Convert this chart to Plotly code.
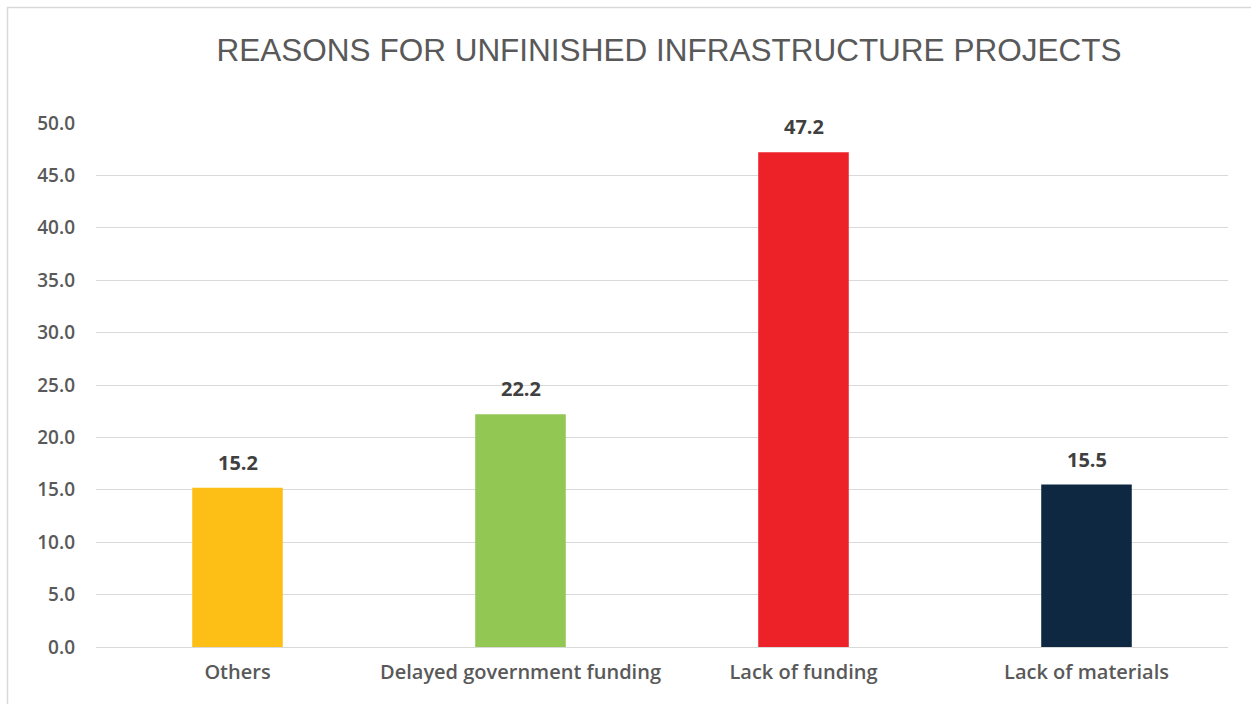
import plotly.graph_objects as go

categories = ["Others", "Delayed government funding", "Lack of funding", "Lack of materials"]
values = [15.2, 22.2, 47.2, 15.5]
bar_colors = ["#FDBE15", "#93C754", "#EC2228", "#0E2841"]
y_ticks = [0, 5, 10, 15, 20, 25, 30, 35, 40, 45, 50]

W, H = 1251, 704
ML, MR, MT, MB = 96, 23, 123, 57
pw = W - ML - MR
ph = H - MT - MB

LABEL_FONT = "Open Sans"

fig = go.Figure(
    go.Bar(
        x=categories,
        y=values,
        marker=dict(color=bar_colors, line=dict(width=0)),
        hoverinfo="x+y",
    )
)

# value labels above each bar
for c, v in zip(categories, values):
    fig.add_annotation(
        x=c, y=v, text=f"{v:.1f}", showarrow=False,
        yanchor="bottom", yshift=10,
        font=dict(family=LABEL_FONT, size=20, color="#404040", weight=700),
    )

# thin frame around the chart area
fig.add_shape(
    type="rect", xref="paper", yref="paper",
    x0=(7.5 - ML) / pw, x1=(W + 20 - ML) / pw,
    y0=-(MB + 20) / ph, y1=(H - MB - 7.5) / ph,
    line=dict(color="#D9D9D9", width=1.5), layer="below",
)

fig.update_layout(
    width=W, height=H,
    margin=dict(l=ML, r=MR, t=MT, b=MB),
    paper_bgcolor="white", plot_bgcolor="white",
    showlegend=False,
    bargap=0.68,
    title=dict(
        text="REASONS FOR UNFINISHED INFRASTRUCTURE PROJECTS",
        x=669 / W, xanchor="center", y=1 - 50 / H, yanchor="middle",
        font=dict(family="Liberation Sans", size=31.5, color="#595959"),
    ),
    xaxis=dict(
        showgrid=False, showline=False, zeroline=False,
        ticks="", ticklabelstandoff=11,
        tickfont=dict(family=LABEL_FONT, size=20, color="#595959", weight=600),
    ),
    yaxis=dict(
        range=[0, 50], tickvals=y_ticks, tickformat=".1f",
        showgrid=True, gridcolor="#D9D9D9", gridwidth=1.3,
        zeroline=True, zerolinecolor="#D9D9D9", zerolinewidth=1.3,
        showline=False, ticks="", ticklabelstandoff=20,
        tickfont=dict(family=LABEL_FONT, size=19, color="#595959", weight=600),
    ),
)

fig.write_html("out.html")
